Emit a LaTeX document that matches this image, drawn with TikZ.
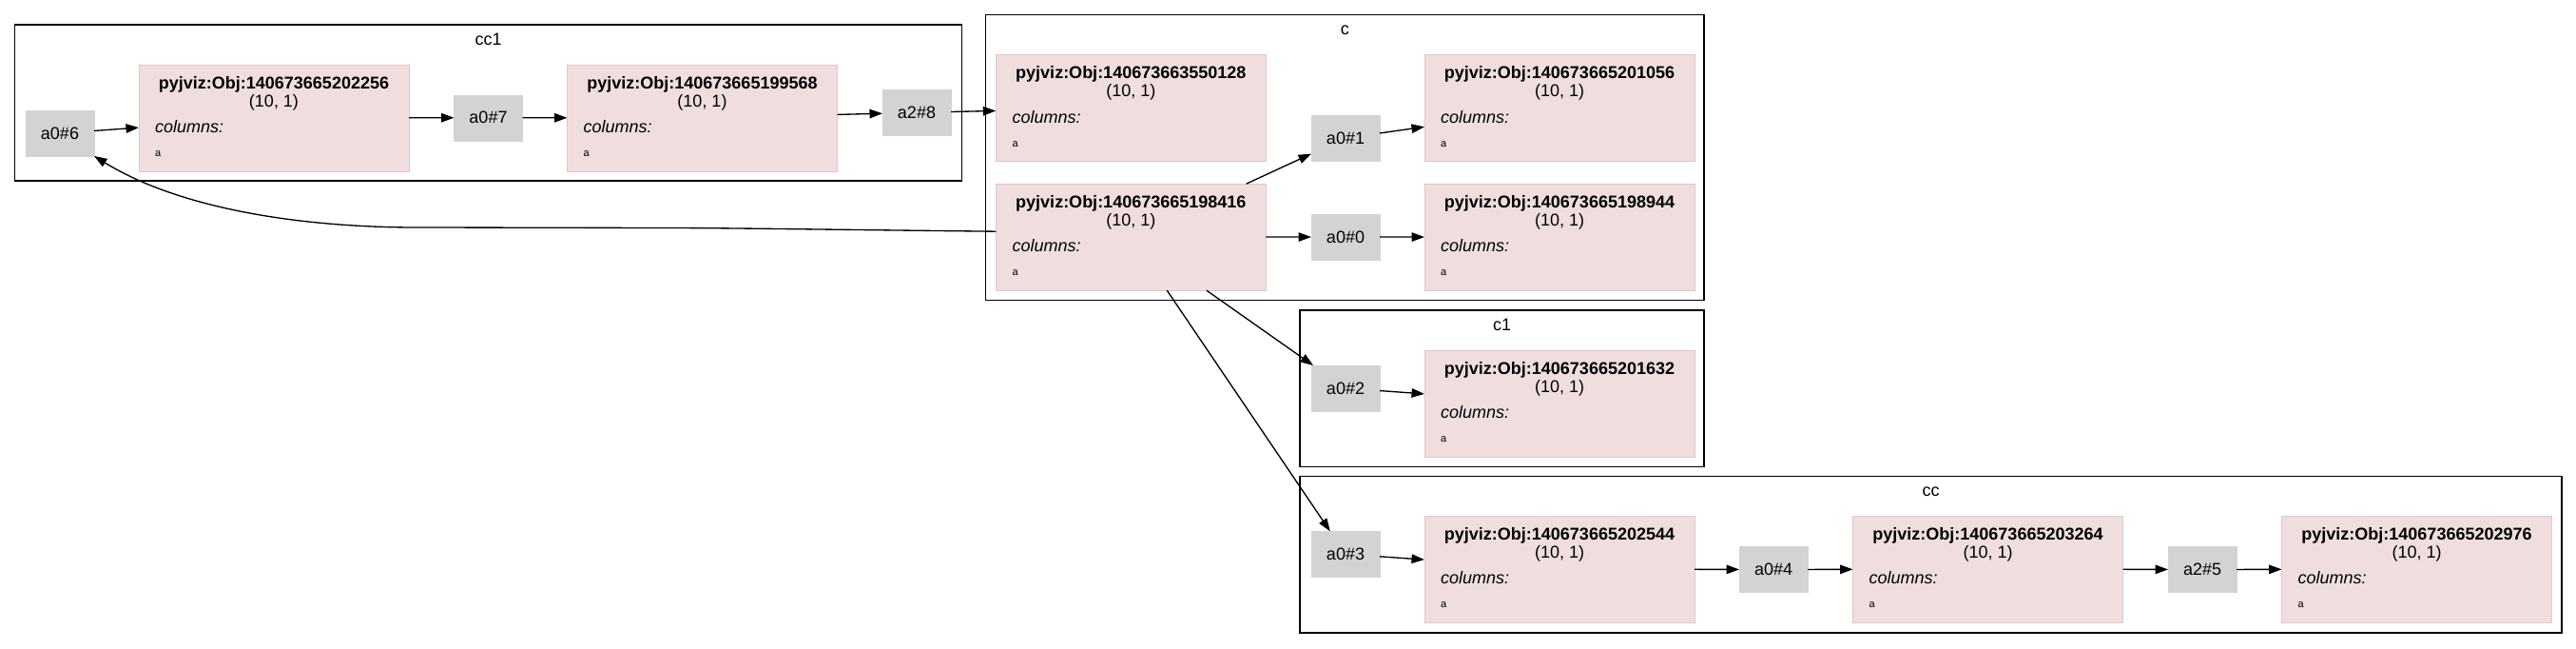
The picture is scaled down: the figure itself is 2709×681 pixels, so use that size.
\documentclass[tikz,border=0pt]{standalone}
\usepackage{fontspec}
\setmainfont{Liberation Sans}
\usetikzlibrary{arrows.meta,calc}
\definecolor{objfill}{RGB}{240,222,223}
\definecolor{objdraw}{RGB}{228,196,200}
\definecolor{opfill}{RGB}{211,211,211}
\tikzset{
 objbox/.style={draw=objdraw, fill=objfill, line width=1pt, minimum width=284pt, minimum height=112pt, inner sep=0pt, outer sep=0pt},
 opbox/.style={fill=opfill, draw=opfill, minimum width=72pt, minimum height=48pt, inner sep=0pt, outer sep=0pt, font=\fontsize{18}{20}\selectfont},
 clusterbox/.style={draw=black, line width=1.33pt},
 clabel/.style={anchor=base, inner sep=0pt, font=\fontsize{18}{20}\selectfont},
 ttl/.style={anchor=base, inner sep=0pt, font=\fontsize{18}{20}\selectfont\bfseries},
 shp/.style={anchor=base, inner sep=0pt, font=\fontsize{18}{20}\selectfont},
 cols/.style={anchor=base west, inner sep=0pt, font=\fontsize{18}{20}\selectfont\itshape},
 colv/.style={anchor=base west, inner sep=0pt, font=\fontsize{11}{12}\selectfont},
 edge/.style={line width=1.33pt, -{Triangle[length=13.5pt,width=9.5pt]}},
}
\newcommand\objnode[4]{%
 \node[objbox] (#1) at (#2,#3) {};
 \node[ttl] (#1-t) at ($(#1.north)+(0,25)$) {pyjviz:Obj:#4};
 \node[shp] (#1-s) at ($(#1.north)+(0,44.5)$) {(10, 1)};
 \node[cols] (#1-c) at ($(#1.north west)+(17,71.7)$) {columns:};
 \node[colv] (#1-a) at ($(#1.north west)+(17,96.7)$) {a};
}
\begin{document}
\begin{tikzpicture}[x=1pt,y=-1pt]
\useasboundingbox (0,0) rectangle (2709,681);
% clusters
\draw[clusterbox] (15.6,26) rectangle (1011.7,190);
\node[clabel] (lcc1) at (513.6,47) {cc1};
\draw[clusterbox] (1036.8,15.7) rectangle (1792,315.7);
\node[clabel] (lc) at (1414.4,36) {c};
\draw[clusterbox] (1367,326) rectangle (1792,490.7);
\node[clabel] (lc1) at (1579.5,347) {c1};
\draw[clusterbox] (1367,500.7) rectangle (2694,665);
\node[clabel] (lcc) at (2030.5,521.5) {cc};
% nodes
\node[opbox] (a06) at (63,140) {a0\#6};
\objnode{o202256}{288}{124}{140673665202256}
\node[opbox] (a07) at (513.5,123.7) {a0\#7};
\objnode{o199568}{738.5}{124}{140673665199568}
\node[opbox] (a28) at (964,118.3) {a2\#8};
\objnode{o550128}{1189.3}{113.3}{140673663550128}
\objnode{o198416}{1189.3}{249.2}{140673665198416}
\node[opbox] (a01) at (1415,145) {a0\#1};
\node[opbox] (a00) at (1415,249) {a0\#0};
\objnode{o201056}{1640}{113.3}{140673665201056}
\objnode{o198944}{1640}{249.2}{140673665198944}
\node[opbox] (a02) at (1415,408) {a0\#2};
\objnode{o201632}{1640}{424}{140673665201632}
\node[opbox] (a03) at (1415,582.3) {a0\#3};
\objnode{o202544}{1640}{598}{140673665202544}
\node[opbox] (a04) at (1865,598.5) {a0\#4};
\objnode{o203264}{2090.5}{598}{140673665203264}
\node[opbox] (a25) at (2316,598.5) {a2\#5};
\objnode{o202976}{2541.5}{598}{140673665202976}
% edges
\draw[edge] (a06) -- (o202256);
\draw[edge] (o202256) -- (a07);
\draw[edge] (a07) -- (o199568);
\draw[edge] (o199568) -- (a28);
\draw[edge] (a28) -- (o550128);
\draw[edge] (o198416) -- (a01);
\draw[edge] (o198416) -- (a00);
\draw[edge] (a01) -- (o201056);
\draw[edge] (a00) -- (o198944);
\draw[edge] (o198416) -- (a02);
\draw[edge] (a02) -- (o201632);
\draw[edge] (o198416) -- (a03);
\draw[edge] (a03) -- (o202544);
\draw[edge] (o202544) -- (a04);
\draw[edge] (a04) -- (o203264);
\draw[edge] (o203264) -- (a25);
\draw[edge] (a25) -- (o202976);
\coordinate (bendA) at (700,239.5);
\coordinate (bendB) at (450,239);
\draw[edge] ($(o198416.west)+(0,-6)$) .. controls (850,241) and (760,239.5) .. (bendA) -- (bendB) .. controls (320,240) and (190,220) .. (a06.south east);
\end{tikzpicture}
\end{document}
